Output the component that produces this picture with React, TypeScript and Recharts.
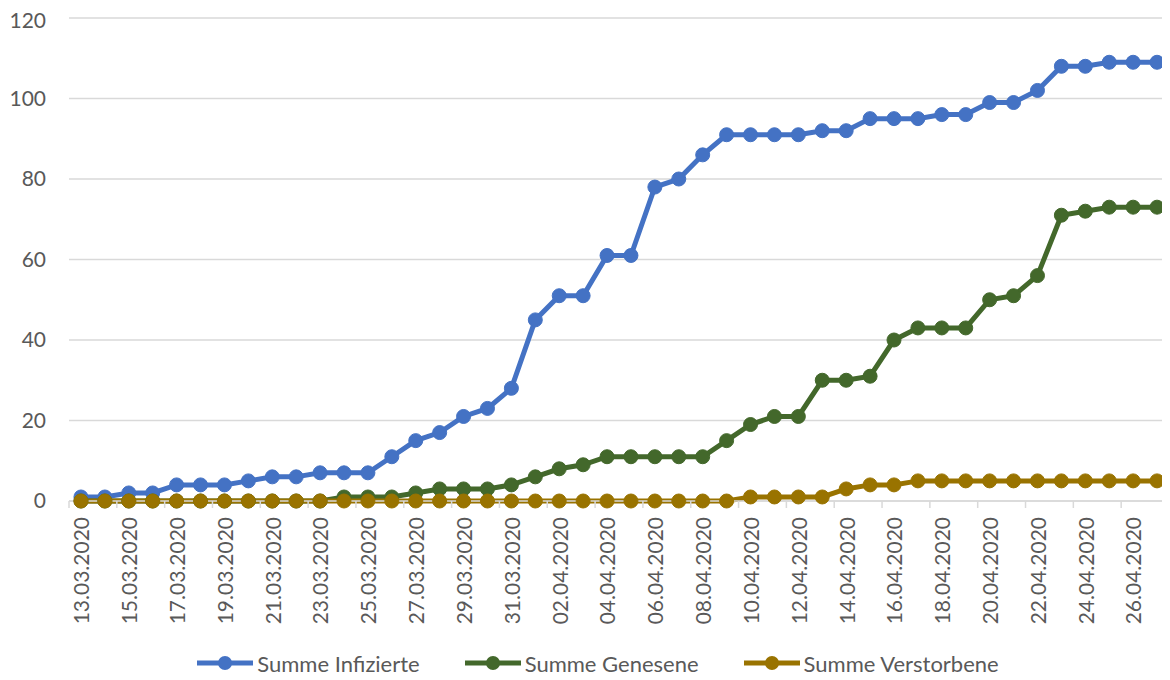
import { LineChart, Line, XAxis, YAxis, CartesianGrid, Legend } from 'recharts';

const dates = [
  '13.03.2020', '14.03.2020', '15.03.2020', '16.03.2020', '17.03.2020', '18.03.2020',
  '19.03.2020', '20.03.2020', '21.03.2020', '22.03.2020', '23.03.2020', '24.03.2020',
  '25.03.2020', '26.03.2020', '27.03.2020', '28.03.2020', '29.03.2020', '30.03.2020',
  '31.03.2020', '01.04.2020', '02.04.2020', '03.04.2020', '04.04.2020', '05.04.2020',
  '06.04.2020', '07.04.2020', '08.04.2020', '09.04.2020', '10.04.2020', '11.04.2020',
  '12.04.2020', '13.04.2020', '14.04.2020', '15.04.2020', '16.04.2020', '17.04.2020',
  '18.04.2020', '19.04.2020', '20.04.2020', '21.04.2020', '22.04.2020', '23.04.2020',
  '24.04.2020', '25.04.2020', '26.04.2020', '27.04.2020',
];

const infizierte = [
  1, 1, 2, 2, 4, 4, 4, 5, 6, 6, 7, 7, 7, 11, 15, 17, 21, 23, 28,
  45, 51, 51, 61, 61, 78, 80, 86, 91, 91, 91, 91, 92, 92, 95, 95, 95, 96, 96, 99, 99, 102, 108, 108, 109, 109, 109,
];

const genesene = [
  0, 0, 0, 0, 0, 0, 0, 0, 0, 0, 0, 1, 1, 1, 2, 3, 3, 3, 4,
  6, 8, 9, 11, 11, 11, 11, 11, 15, 19, 21, 21, 30, 30, 31, 40, 43, 43, 43, 50, 51, 56, 71, 72, 73, 73, 73,
];

const verstorbene = [
  0, 0, 0, 0, 0, 0, 0, 0, 0, 0, 0, 0, 0, 0, 0, 0, 0, 0, 0,
  0, 0, 0, 0, 0, 0, 0, 0, 0, 1, 1, 1, 1, 3, 4, 4, 5, 5, 5, 5, 5, 5, 5, 5, 5, 5, 5,
];

const yTicks = [0, 20, 40, 60, 80, 100, 120];

const series = [
  { key: 'infizierte', name: 'Summe Infizierte', color: '#4472C4' },
  { key: 'genesene', name: 'Summe Genesene', color: '#43682B' },
  { key: 'verstorbene', name: 'Summe Verstorbene', color: '#997300' },
];

const data = dates.map((date, i) => ({
  date,
  infizierte: infizierte[i],
  genesene: genesene[i],
  verstorbene: verstorbene[i],
}));

const FONT = 'Lato, "Open Sans", sans-serif';
const TEXT = '#595959';
const GRID = '#d9d9d9';
const PLOT_WIDTH = 1100;
const BAND = PLOT_WIDTH / dates.length;
const LAST_LABEL = dates[dates.length - 2];

function DateTick(props: any) {
  const { x, y, payload } = props;
  const left = x - BAND / 2;
  return (
    <g>
      <line x1={left} y1={y} x2={left} y2={y + 7} stroke={GRID} strokeWidth={1.5} />
      {payload.value === LAST_LABEL && (
        <line x1={left + 2 * BAND} y1={y} x2={left + 2 * BAND} y2={y + 7} stroke={GRID} strokeWidth={1.5} />
      )}
      <text
        x={0}
        y={0}
        dy="0.35em"
        transform={`translate(${x + 1},${y + 16}) rotate(-90)`}
        textAnchor="end"
        fill={TEXT}
        fontSize={21}
        fontFamily={FONT}
      >
        {payload.value}
      </text>
    </g>
  );
}

function ChartLegend() {
  return (
    <div
      style={{
        display: 'flex',
        justifyContent: 'center',
        alignItems: 'center',
        height: 34,
        paddingLeft: 19,
        fontFamily: FONT,
        fontSize: 22,
        color: TEXT,
      }}
    >
      {series.map((s, i) => (
        <div key={s.key} style={{ display: 'flex', alignItems: 'center', marginLeft: i === 0 ? 0 : 45 }}>
          <svg width={56} height={16}>
            <line x1={0} y1={8} x2={56} y2={8} stroke={s.color} strokeWidth={5} strokeLinecap="round" />
            <circle cx={28} cy={8} r={7} fill={s.color} />
          </svg>
          <span style={{ marginLeft: 4 }}>{s.name}</span>
        </div>
      ))}
    </div>
  );
}

export default function App() {
  return (
    <div style={{ width: 1162, height: 672, fontFamily: FONT }}>
      <LineChart width={1162} height={672} data={data} margin={{ top: 10, right: 1, left: 0, bottom: 0 }}>
        <CartesianGrid vertical={false} stroke={GRID} strokeWidth={1.5} />
        <XAxis
          dataKey="date"
          interval={1}
          padding={{ left: BAND / 2, right: BAND / 2 }}
          axisLine={{ stroke: GRID, strokeWidth: 1.5 }}
          tickLine={false}
          tickSize={0}
          tickMargin={0}
          height={145}
          tick={<DateTick />}
        />
        <YAxis
          domain={[0, 120]}
          ticks={yTicks}
          axisLine={false}
          tickLine={false}
          tickSize={0}
          tickMargin={23}
          width={61}
          tick={{ fill: TEXT, fontSize: 21, fontFamily: FONT }}
        />
        <Legend verticalAlign="bottom" height={34} content={() => <ChartLegend />} />
        {series.map((s) => (
          <Line
            key={s.key}
            type="linear"
            dataKey={s.key}
            name={s.name}
            stroke={s.color}
            strokeWidth={5}
            dot={{ r: 7, fill: s.color, stroke: s.color, strokeWidth: 1 }}
            activeDot={false}
            isAnimationActive={false}
          />
        ))}
      </LineChart>
    </div>
  );
}
